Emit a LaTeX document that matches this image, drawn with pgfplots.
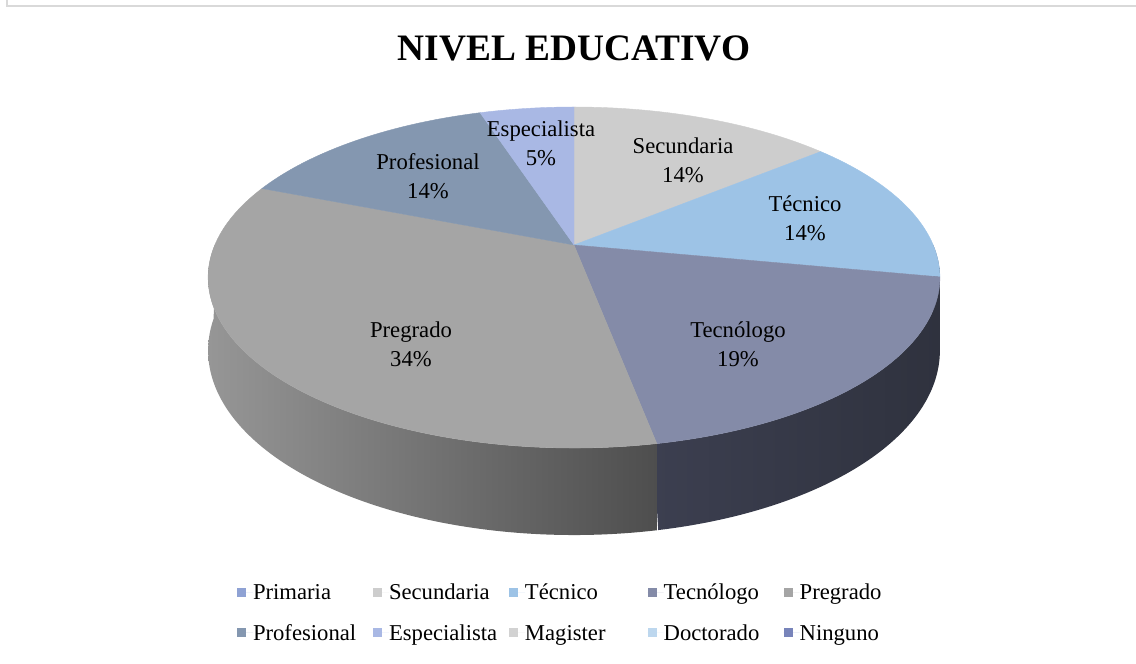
\documentclass[border=0pt]{standalone}
\usepackage{pgfplots}
\pgfplotsset{compat=1.18}
\usepackage{pgfplotstable}
\usepackage{fontspec}
\setmainfont{Liberation Serif}

% top-face colours
\definecolor{col0}{RGB}{143,162,212}
\definecolor{col1}{RGB}{205,205,205}
\definecolor{col2}{RGB}{157,195,230}
\definecolor{col3}{RGB}{132,139,168}
\definecolor{col4}{RGB}{165,165,165}
\definecolor{col5}{RGB}{132,151,176}
\definecolor{col6}{RGB}{169,184,228}
\definecolor{col7}{RGB}{210,210,210}
\definecolor{col8}{RGB}{189,215,238}
\definecolor{col9}{RGB}{120,132,186}
% side colours (left / right of the gradient)
\definecolor{sideL0}{RGB}{80,90,120}\definecolor{sideR0}{RGB}{60,68,92}
\definecolor{sideL1}{RGB}{120,120,120}\definecolor{sideR1}{RGB}{90,90,90}
\definecolor{sideL2}{RGB}{58,62,78}\definecolor{sideR2}{RGB}{52,55,68}
\definecolor{sideL3}{RGB}{60,63,80}\definecolor{sideR3}{RGB}{47,50,62}
\definecolor{sideL4}{RGB}{150,150,150}\definecolor{sideR4}{RGB}{78,78,78}
\definecolor{sideL5}{RGB}{80,92,108}\definecolor{sideR5}{RGB}{60,70,84}
\definecolor{sideL6}{RGB}{100,110,140}\definecolor{sideR6}{RGB}{80,90,120}
\definecolor{sideL7}{RGB}{120,120,120}\definecolor{sideR7}{RGB}{90,90,90}
\definecolor{sideL8}{RGB}{110,130,150}\definecolor{sideR8}{RGB}{90,105,125}
\definecolor{sideL9}{RGB}{80,90,120}\definecolor{sideR9}{RGB}{60,68,92}
\definecolor{framegray}{RGB}{217,217,217}

\pgfplotstableread{
name value
Primaria 0
Secundaria 14
Tecnico 14
Tecnologo 19
Pregrado 34
Profesional 14
Especialista 5
Magister 0
Doctorado 0
Ninguno 0
}\datatable

\newcommand{\lbl}{\fontsize{17}{21.75}\selectfont}
\newcommand{\lstrut}{\rule[-4pt]{0pt}{16.5pt}}
\newcommand{\lentry}[2][90pt]{\makebox[#1][l]{\lstrut#2}}

\begin{document}
\begin{tikzpicture}
\begin{axis}[
  width=852pt, height=498pt, scale only axis,
  xmin=0, xmax=1136, ymin=0, ymax=664,
  hide axis, clip=false,
  declare function={
    PX(\w)=574+1663*sin(\w)/(4.63+0.883*cos(\w));
    PY(\w)=419+760.8*cos(\w)/(4.63+0.883*cos(\w));
    DY(\w)=326/(4.63+0.883*cos(\w));
    SA(\s,\p,\q)=(\s<=100)*(\p+(\q-\p)*\s/100)+(\s>100)*(\q-(\q-\p)*(\s-100)/100);
    TA(\s,\p,\q)=\p+(\q-\p)*max(\s,0)/100;
  },
  legend style={at={(axis cs:237,81)}, anchor=north west, draw=none, fill=none,
    legend columns=5, column sep=0pt, row sep=16.3pt, inner sep=0pt, outer sep=0pt,
    font=\lbl, nodes={inner sep=0pt}},
  legend image code/.code={\fill[#1] (0pt,-3.4pt) rectangle (6.75pt,3.4pt); \path (0pt,0pt) -- (12pt,0pt);},
]
% legend entries
\addlegendimage{fill=col0,draw=none}\addlegendentry{\lentry{Primaria}}
\addlegendimage{fill=col1,draw=none}\addlegendentry{\lentry{Secundaria}}
\addlegendimage{fill=col2,draw=none}\addlegendentry{\lentry[92pt]{Técnico}}
\addlegendimage{fill=col3,draw=none}\addlegendentry{\lentry{Tecnólogo}}
\addlegendimage{fill=col4,draw=none}\addlegendentry{\lentry{Pregrado}}
\addlegendimage{fill=col5,draw=none}\addlegendentry{\lentry{Profesional}}
\addlegendimage{fill=col6,draw=none}\addlegendentry{\lentry{Especialista}}
\addlegendimage{fill=col7,draw=none}\addlegendentry{\lentry[92pt]{Magister}}
\addlegendimage{fill=col8,draw=none}\addlegendentry{\lentry{Doctorado}}
\addlegendimage{fill=col9,draw=none}\addlegendentry{\lentry{Ninguno}}

\pgfplotstablegetrowsof{\datatable}
\pgfmathtruncatemacro\nrows{\pgfplotsretval-1}

% ---- sides (front half only)
\def\cum{0}
\pgfplotsforeachungrouped \i in {0,...,\nrows}{%
  \pgfplotstablegetelem{\i}{value}\of\datatable
  \let\v\pgfplotsretval
  \pgfmathsetmacro\A{max(\cum*3.6,90)}%
  \pgfmathsetmacro\B{min((\cum+\v)*3.6+0.5,270)}%
  \pgfmathsetmacro\cum{\cum+\v}%
  \pgfmathtruncatemacro\vis{(\v>0)&&(\B>\A)}%
  \ifnum\vis=1
    \edef\cmd{\noexpand\addplot[forget plot, draw=none, left color=sideL\i, right color=sideR\i,
      variable=\noexpand\s, samples at={0,1,...,200}]
      ({PX(SA(\noexpand\s,\A,\B))},{PY(SA(\noexpand\s,\A,\B))-(\noexpand\s>100)*DY(SA(\noexpand\s,\A,\B))}) -- cycle;}%
    \cmd
  \fi
}
% ---- top faces
\def\cum{0}
\pgfplotsforeachungrouped \i in {0,...,\nrows}{%
  \pgfplotstablegetelem{\i}{value}\of\datatable
  \let\v\pgfplotsretval
  \pgfmathsetmacro\A{\cum*3.6}%
  \pgfmathsetmacro\B{(\cum+\v)*3.6}%
  \pgfmathsetmacro\cum{\cum+\v}%
  \pgfmathtruncatemacro\vis{\v>0}%
  \ifnum\vis=1
    \edef\cmd{\noexpand\addplot[forget plot, fill=col\i, draw=col\i, line width=0.3pt,
      variable=\noexpand\s, samples at={-1,0,1,...,100}]
      ({574+(\noexpand\s>=0)*(PX(TA(\noexpand\s,\A,\B))-574)},{419+(\noexpand\s>=0)*(PY(TA(\noexpand\s,\A,\B))-419)}) -- cycle;}%
    \cmd
  \fi
}

% frame
\draw[framegray, line width=1.5pt] (axis cs:7,664) -- (axis cs:7,657.5) -- (axis cs:1136,657.5);

% title
\node[font=\fontsize{28}{32}\selectfont\bfseries] at (axis cs:574,616) {NIVEL EDUCATIVO};

% data labels
\node[font=\lbl, align=center] at (axis cs:541,521) {Especialista\\5\%};
\node[font=\lbl, align=center] at (axis cs:683,504) {Secundaria\\14\%};
\node[font=\lbl, align=center] at (axis cs:805,446) {Técnico\\14\%};
\node[font=\lbl, align=center] at (axis cs:738,320) {Tecnólogo\\19\%};
\node[font=\lbl, align=center] at (axis cs:411,320) {Pregrado\\34\%};
\node[font=\lbl, align=center] at (axis cs:428,488) {Profesional\\14\%};

\coordinate (BL) at (axis cs:0,0);
\coordinate (TR) at (axis cs:1136,664);
\end{axis}
\pgfresetboundingbox
\path[use as bounding box] (BL) rectangle (TR);
\end{tikzpicture}
\end{document}
